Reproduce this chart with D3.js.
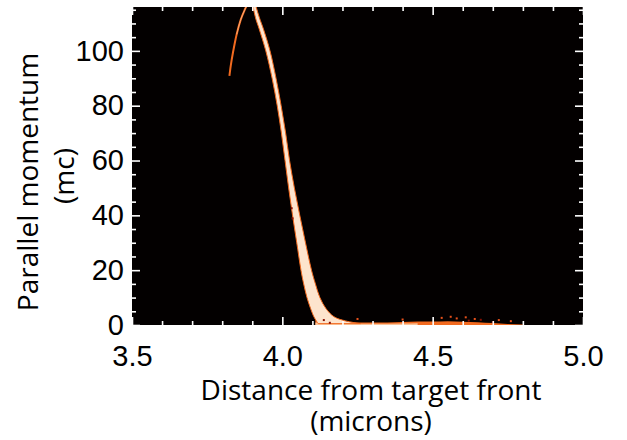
<!DOCTYPE html>
<html>
<head>
<meta charset="utf-8">
<script src="https://cdn.jsdelivr.net/npm/d3@7"></script>
<style>
  html, body { margin: 0; padding: 0; background: #ffffff; }
  svg { display: block; font-family: "Open Sans", "Noto Sans", sans-serif; }
</style>
</head>
<body>
<svg id="chart" width="627" height="440"></svg>
<script>
// ---- data ----
const xDomain = [3.5, 5.0];
const yDomain = [0, 116];
const xMajorTicks = [3.5, 4.0, 4.5, 5.0];
const xMinorTicks = [3.6, 3.7, 3.8, 3.9, 4.1, 4.2, 4.3, 4.4, 4.6, 4.7, 4.8, 4.9];
const yMajorTicks = [0, 20, 40, 60, 80, 100];
const yMinorTicks = [5, 10, 15, 25, 30, 35, 45, 50, 55, 65, 70, 75, 85, 90, 95, 105, 110, 115];
const xTickLabels = ["3.5", "4.0", "4.5", "5.0"];
const yTickLabels = ["0", "20", "40", "60", "80", "100"];

// rising (left) branch of the phase-space curve
const leftBranchX = [3.824, 3.829, 3.836, 3.848, 3.862, 3.875, 3.886, 3.893];
const leftBranchY = [90.9, 95.0, 99.5, 106.0, 111.5, 115.0, 117.5, 120.0];

// falling (right) branch: momentum levels and left/right edges of the band
const bandY  = [119, 116, 112, 108, 100, 90, 80, 70, 60, 50, 40, 30, 20, 15, 10, 6, 3, 1.5, 0.5];
const bandXL = [3.899, 3.903, 3.911, 3.923, 3.945, 3.966, 3.983, 3.997, 4.009, 4.021, 4.034, 4.048, 4.062, 4.071, 4.082, 4.094, 4.105, 4.113, 4.119];
const bandXR = [3.906, 3.913, 3.924, 3.937, 3.959, 3.979, 3.996, 4.011, 4.024, 4.040, 4.058, 4.077, 4.097, 4.110, 4.125, 4.145, 4.172, 4.210, 4.260];

// low-momentum tail along the axis
const tailX = [4.11, 4.20, 4.30, 4.40, 4.45, 4.50, 4.55, 4.60, 4.65, 4.70, 4.75, 4.80];
const tailY = [1.8, 1.0, 0.9, 1.1, 1.3, 1.3, 1.4, 1.2, 1.0, 0.7, 0.4, 0.2];

// scattered dense / sparse cells
const darkDotX = [4.031, 4.034, 4.138, 4.158, 4.620, 4.660, 4.700];
const darkDotY = [42.6, 38.9, 1.8, 0.8, 1.6, 1.9, 1.0];
const orangeDotX = [4.25, 4.40, 4.53, 4.56, 4.58, 4.61, 4.64, 4.72, 4.76];
const orangeDotY = [2.2, 2.0, 2.6, 3.0, 2.4, 2.8, 2.2, 1.8, 1.4];

const xTitle = ["Distance from target front", "(microns)"];
const yTitle = ["Parallel momentum", "(mc)"];

// ---- layout ----
const W = 627, H = 440;
const margin = { left: 132, top: 7, right: 44, bottom: 115 };
const pw = W - margin.left - margin.right;
const ph = H - margin.top - margin.bottom;

const svg = d3.select("#chart");
const g = svg.append("g").attr("transform", `translate(${margin.left},${margin.top})`);

const x = d3.scaleLinear().domain(xDomain).range([0, pw]);
const y = d3.scaleLinear().domain(yDomain).range([ph, 0]);

g.append("defs").append("clipPath").attr("id", "clip")
  .append("rect").attr("width", pw).attr("height", ph);

g.append("rect").attr("width", pw).attr("height", ph).attr("fill", "#030000");

const plot = g.append("g").attr("clip-path", "url(#clip)");

// tail
const tail = tailX.map((v, i) => ({ x: v, y: tailY[i] }));
plot.append("path").datum(tail)
  .attr("d", d3.area().x(d => x(d.x)).y0(y(0)).y1(d => y(d.y)).curve(d3.curveMonotoneX))
  .attr("fill", "#f26a1f");
plot.append("path").datum(tail.slice(0, 5))
  .attr("d", d3.area().x(d => x(d.x)).y0(y(0)).y1(d => y(d.y * 0.5)).curve(d3.curveMonotoneX))
  .attr("fill", "#fbc49a");

// falling band
const band = bandY.map((v, i) => ({ y: v, xl: bandXL[i], xr: bandXR[i] }));
plot.append("path").datum(band)
  .attr("d", d3.area().y(d => y(d.y)).x0(d => x(d.xl)).x1(d => x(d.xr)).curve(d3.curveCatmullRom))
  .attr("fill", "#fde4cd").attr("stroke", "#f26a1f").attr("stroke-width", 1.0);

// rising branch
const left = leftBranchX.map((v, i) => ({ x: v, y: leftBranchY[i] }));
const lineGen = d3.line().x(d => x(d.x)).y(d => y(d.y)).curve(d3.curveCatmullRom);
plot.append("path").datum(left).attr("d", lineGen)
  .attr("fill", "none").attr("stroke", "#f26a1f").attr("stroke-width", 2.0);
plot.append("path").datum(left.slice(3)).attr("d", lineGen)
  .attr("fill", "none").attr("stroke", "#fbb585").attr("stroke-width", 0.8);

// dots
plot.selectAll(".od").data(orangeDotX.map((v, i) => ({ x: v, y: orangeDotY[i] })))
  .join("rect").attr("class", "od")
  .attr("x", d => x(d.x) - 1).attr("y", d => y(d.y) - 1).attr("width", 2).attr("height", 2)
  .attr("fill", "#e8501a");
plot.selectAll(".dd").data(darkDotX.map((v, i) => ({ x: v, y: darkDotY[i] })))
  .join("rect").attr("class", "dd")
  .attr("x", d => x(d.x) - 1).attr("y", d => y(d.y) - 1).attr("width", 2).attr("height", 2)
  .attr("fill", "#8a0f00");

// ---- axes (ticks inside, white) ----
function styleAxis(sel) {
  sel.select(".domain").remove();
  sel.selectAll(".tick line").attr("stroke", "#ffffff").attr("stroke-width", 1.6);
  sel.selectAll("text").attr("fill", "#000").attr("font-size", 29);
}
const fmtX = (d) => xTickLabels[xMajorTicks.indexOf(d)];
const fmtY = (d) => yTickLabels[yMajorTicks.indexOf(d)];

g.append("g").attr("transform", `translate(0,${ph})`)
  .call(d3.axisBottom(x).tickValues(xMajorTicks).tickSize(-8).tickPadding(20).tickFormat(fmtX))
  .call(styleAxis);
g.append("g").attr("transform", `translate(0,${ph})`)
  .call(d3.axisBottom(x).tickValues(xMinorTicks).tickSize(-4).tickFormat(""))
  .call(styleAxis);
g.append("g")
  .call(d3.axisTop(x).tickValues(xMajorTicks).tickSize(-8).tickFormat(""))
  .call(styleAxis);
g.append("g")
  .call(d3.axisTop(x).tickValues(xMinorTicks).tickSize(-4).tickFormat(""))
  .call(styleAxis);
g.append("g")
  .call(d3.axisLeft(y).tickValues(yMajorTicks).tickSize(-8).tickPadding(8).tickFormat(fmtY))
  .call(styleAxis);
g.append("g")
  .call(d3.axisLeft(y).tickValues(yMinorTicks).tickSize(-4).tickFormat(""))
  .call(styleAxis);
g.append("g").attr("transform", `translate(${pw},0)`)
  .call(d3.axisRight(y).tickValues(yMajorTicks).tickSize(-8).tickFormat(""))
  .call(styleAxis);
g.append("g").attr("transform", `translate(${pw},0)`)
  .call(d3.axisRight(y).tickValues(yMinorTicks).tickSize(-4).tickFormat(""))
  .call(styleAxis);

// ---- titles (two-line, one text element each) ----
const xt = svg.append("text").attr("text-anchor", "middle").attr("font-size", 28);
xt.append("tspan").attr("x", 371).attr("y", 400).text(xTitle[0]);
xt.append("tspan").attr("x", 371).attr("dy", 31).text(xTitle[1]);

const yt = svg.append("text").attr("transform", "translate(38,182) rotate(-90)")
  .attr("text-anchor", "middle").attr("font-size", 28);
yt.append("tspan").attr("x", 0).attr("y", 0).text(yTitle[0]);
yt.append("tspan").attr("x", 6).attr("dy", 36).text(yTitle[1]);
</script>
</body>
</html>
